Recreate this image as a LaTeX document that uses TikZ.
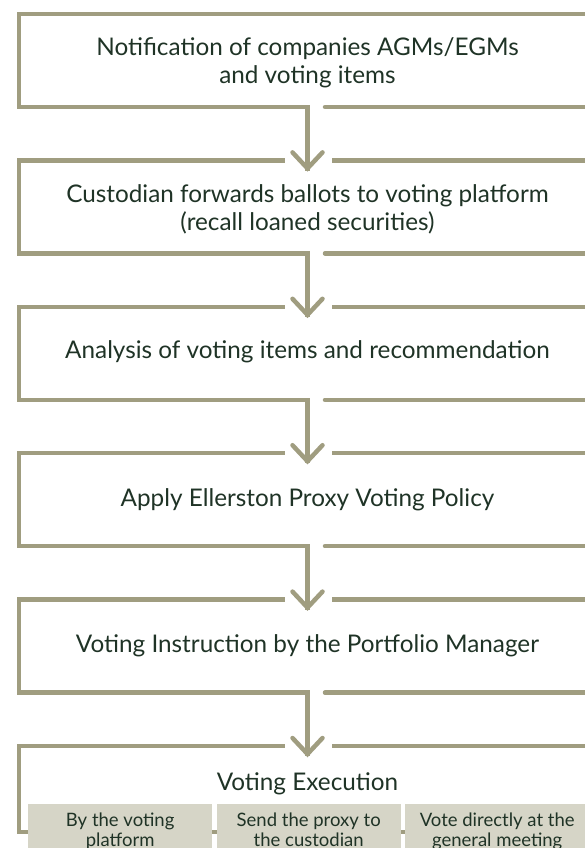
\documentclass[tikz,border=0pt]{standalone}
\usepackage{fontspec}
\setmainfont{Lato}
\usetikzlibrary{positioning}
\definecolor{rulecol}{RGB}{160,157,128}
\definecolor{panelcol}{RGB}{214,213,199}
\definecolor{inkcol}{RGB}{31,51,38}

\begin{document}
\begin{tikzpicture}[x=1pt, y=-1pt,
  rule/.style={draw=rulecol, line width=4.5pt, line join=miter, line cap=rect},
  head/.style={text=inkcol, align=center, font=\fontsize{24.3}{28}\selectfont},
  way/.style={fill=panelcol, text=inkcol, align=center, font=\fontsize{18.5}{20}\selectfont,
    anchor=north west, minimum width=184pt, inner xsep=0pt, inner ysep=8pt,
    text height=34pt, text depth=4pt}]
\useasboundingbox (0,0) rectangle (584,848);

% open frames, one below the other
\foreach \i in {0,...,5} {
  \pgfmathsetmacro\t{14+146.4*\i}
  \pgfmathsetmacro\b{\t+(\i<5 ? 93 : 86)}
  \pgfmathsetmacro\x{\i==0 ? 595 : 283}
  \coordinate (in\i) at (307.5,\t+8);
  \coordinate (out\i) at (307.5,\b);
  \draw[rule] (\x,\t) -- (19,\t) -- (19,\b) -- (out\i);
  \ifnum\i>0 \draw[rule] (334,\t) -- (595,\t); \fi
  \ifnum\i<5 \draw[rule, line cap=round] (325,\b) -- (595,\b);
  \else \draw[rule] (out\i) -- (595,\b); \fi
}

% stems and chevrons
\foreach \i [count=\j] in {0,...,4} \draw[rule] (out\i) -- (in\j);
\foreach \j in {1,...,5} \draw[rule, line cap=round] (in\j) ++(-15,-16) -- (in\j) -- ++(15,-16);

\node[head] (notice) at (307.5,63) {Notification of companies AGMs/EGMs\\and voting items};
\node[head] (ballots) at (307.5,209.5) {Custodian forwards ballots to voting platform\\(recall loaned securities)};
\node[head] (analysis) at (307.5,352) {Analysis of voting items and recommendation};
\node[head] (policy) at (307.5,499.5) {Apply Ellerston Proxy Voting Policy};
\node[head] (instruct) at (307.5,645.5) {Voting Instruction by the Portfolio Manager};
\node[head] (execute) at (307.5,784) {Voting Execution};

\node[way] (platform) at (28,804) {By the voting\\platform};
\node[way] (custodian) at (216.5,804) {Send the proxy to\\the custodian};
\node[way] (meeting) at (405,804) {Vote directly at the\\general meeting};
\end{tikzpicture}
\end{document}
